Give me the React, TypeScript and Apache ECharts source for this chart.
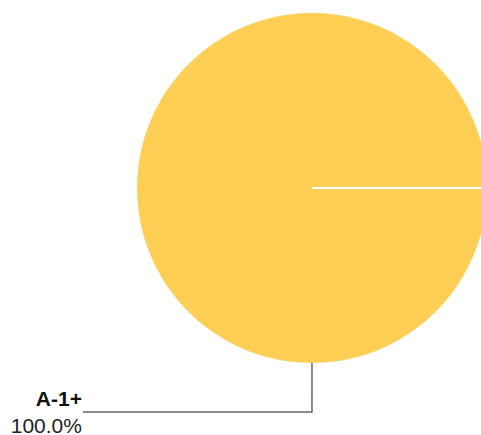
import React, { useEffect, useRef } from "react";
import * as echarts from "echarts";

const categories = ["A-1+"];
const values = [100];
const percentLabels = ["100.0%"];

const FONT = "'Liberation Sans', Arial, sans-serif";

export default function App() {
  const ref = useRef<HTMLDivElement>(null);
  useEffect(() => {
    if (!ref.current) return;
    const chart = echarts.init(ref.current, null, { renderer: "svg" });
    const data = categories.map((name, i) => ({ name, value: values[i], pct: percentLabels[i] }));
    chart.setOption({
      animation: false,
      series: [
        {
          type: "pie",
          center: [312, 188],
          radius: 175,
          startAngle: 89.99,
          clockwise: true,
          avoidLabelOverlap: false,
          data,
          itemStyle: { color: "#FFCE54", borderWidth: 0 },
          label: {
            show: true,
            position: "outside",
            distanceToLabelLine: 1,
            fontFamily: FONT,
            formatter: (p: any) => `{b|${p.name}}\n{c|${p.data.pct}}`,
            rich: {
              b: {
                fontFamily: FONT,
                fontSize: 21,
                fontWeight: "bold",
                color: "#111",
                lineHeight: 27,
                align: "right",
              },
              c: {
                fontFamily: FONT,
                fontSize: 21,
                color: "#222",
                lineHeight: 27,
                align: "right",
              },
            },
          },
          labelLine: {
            show: true,
            length: 49,
            length2: 229,
            smooth: false,
            lineStyle: { color: "#666", width: 1.5 },
          },
          emphasis: { disabled: true },
        },
      ],
      graphic: [
        {
          type: "line",
          shape: { x1: 312, y1: 188, x2: 490, y2: 188 },
          style: { stroke: "#ffffff", lineWidth: 2 },
          z: 10,
        },
      ],
    });
    return () => chart.dispose();
  }, []);
  return (
    <div
      ref={ref}
      style={{ position: "absolute", left: 0, top: 0, width: 481, height: 435 }}
    />
  );
}
